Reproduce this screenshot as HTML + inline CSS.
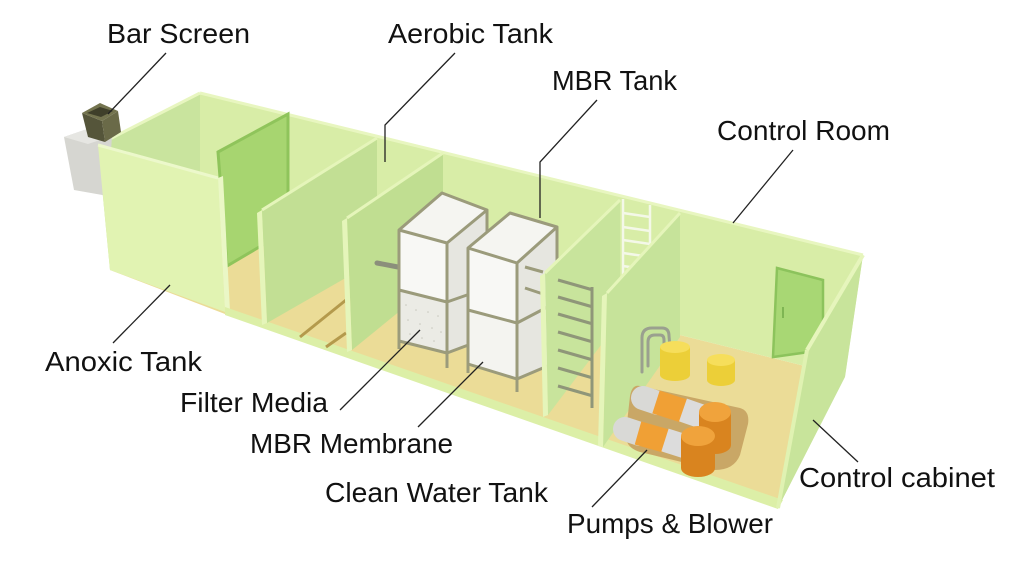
<!DOCTYPE html>
<html><head><meta charset="utf-8"><style>
html,body{margin:0;padding:0;background:#fff;}
svg{display:block;}
text{font-family:"Liberation Sans",Arial,sans-serif;font-size:28px;fill:#111;}
</style></head><body>
<svg width="1024" height="562" viewBox="0 0 1024 562" xmlns="http://www.w3.org/2000/svg">
<rect width="1024" height="562" fill="#fff"/>
<!-- floor -->
<polygon points="200,216 845,376 778,508 225,314 110,270" fill="#ebdc97"/>
<!-- back wall -->
<polygon points="200,93 863,255 845,376 200,216" fill="#d8eda7"/>
<line x1="200" y1="93" x2="863" y2="255" stroke="#e8f6c0" stroke-width="3"/>
<!-- left end inner face -->
<polygon points="98,145 200,93 200,216 110,270" fill="#c9e49e"/>
<line x1="98" y1="145" x2="200" y2="93" stroke="#e8f6c0" stroke-width="3"/>
<!-- grey block -->
<polygon points="64,137 90,128 112,136 108,196 74,190" fill="#d6d6d1"/>
<polygon points="64,137 90,128 112,136 88,144" fill="#e6e6e2"/>
<!-- bar screen -->
<polygon points="82,113 102,121 105,142 88,137" fill="#55553a"/>
<polygon points="102,121 118,111 121,132 105,142" fill="#6a6a48"/>
<polygon points="82,113 100,103 118,111 102,121" fill="#74744f"/>
<polygon points="87,113 100,107 113,111 101,117" fill="#3f3f2a"/>
<!-- anoxic panel -->
<polygon points="218,152 288,114 288,230 227,266" fill="#a7d570" stroke="#8fc45b" stroke-width="3"/>
<!-- front segment (anoxic outer) -->
<polygon points="98,145 218,178 225,312 110,270" fill="#e1f3b2"/>
<polygon points="218,178 223,176 230,311 225,312" fill="#eaf7c6"/>
<line x1="98" y1="145" x2="218" y2="178" stroke="#ecf8cb" stroke-width="3"/>
<!-- white ladder on back wall -->
<g stroke="#f4f8e8" stroke-width="2.5" fill="none">
<line x1="623" y1="199" x2="623" y2="280"/>
<line x1="650" y1="205" x2="650" y2="270"/>
<line x1="623" y1="213" x2="650" y2="217"/>
<line x1="623" y1="227" x2="650" y2="231"/>
<line x1="623" y1="240" x2="650" y2="244"/>
<line x1="623" y1="253" x2="650" y2="257"/>
<line x1="623" y1="266" x2="650" y2="270"/>
</g>
<!-- control room door -->
<polygon points="777,268 823,280 823,350 773,357" fill="#a8d774" stroke="#8cc35c" stroke-width="2.5"/>
<line x1="783" y1="307" x2="783" y2="318" stroke="#7fb553" stroke-width="2"/>
<!-- front lip -->
<polygon points="225,307 783,500 778,509 225,315" fill="#dcefa7"/>
<!-- D1 -->
<polygon points="262,210 377,138 377,260 267,323" fill="#c2df94"/>
<polygon points="257,213 262,210 267,323 262,325" fill="#e5f5ba"/>
<line x1="262" y1="210" x2="377" y2="138" stroke="#e5f5ba" stroke-width="3"/>
<!-- aerobic pipes -->
<line x1="300" y1="337" x2="346" y2="300" stroke="#b49a4c" stroke-width="3"/>
<line x1="326" y1="347" x2="346" y2="333" stroke="#b49a4c" stroke-width="3"/>
<!-- D2 -->
<polygon points="347,218 443,153 443,276 352,350" fill="#c0de91"/>
<polygon points="342,221 347,218 352,350 347,352" fill="#e5f5ba"/>
<line x1="347" y1="218" x2="443" y2="153" stroke="#e5f5ba" stroke-width="3"/>
<line x1="377" y1="263" x2="398" y2="267" stroke="#8b8f7b" stroke-width="5" stroke-linecap="round"/>
<!-- rack 1 -->
<polygon points="399,230 442,193 487,210 447,243" fill="#f5f5f1"/>
<polygon points="399,230 447,243 447,302 399,290" fill="#f8f8f5"/>
<polygon points="399,290 447,302 447,353 399,341" fill="#ebebe5"/>
<polygon points="447,243 487,210 487,338 447,353" fill="#e6e6e0"/>
<g fill="#c8c8be">
<circle cx="406" cy="305" r="0.8"/><circle cx="416" cy="310" r="0.8"/><circle cx="428" cy="312" r="0.8"/><circle cx="438" cy="316" r="0.8"/>
<circle cx="408" cy="320" r="0.8"/><circle cx="420" cy="324" r="0.8"/><circle cx="432" cy="328" r="0.8"/><circle cx="441" cy="332" r="0.8"/>
<circle cx="410" cy="334" r="0.8"/><circle cx="422" cy="338" r="0.8"/><circle cx="434" cy="341" r="0.8"/>
</g>
<g stroke="#9b9b7b" stroke-width="3" fill="none" stroke-linejoin="round">
<polygon points="399,230 442,193 487,210 447,243"/>
<line x1="399" y1="230" x2="399" y2="349"/>
<line x1="447" y1="243" x2="447" y2="368"/>
<line x1="487" y1="210" x2="487" y2="335"/>
<polyline points="399,290 447,302 487,288"/>
<polyline points="399,341 447,353 487,338"/>
</g>
<!-- rack 2 -->
<polygon points="468,248 510,213 557,227 517,263" fill="#f5f5f1"/>
<polygon points="468,248 517,263 517,323 468,310" fill="#f8f8f5"/>
<polygon points="468,310 517,323 517,379 468,364" fill="#f4f4f0"/>
<polygon points="517,263 557,227 557,362 517,379" fill="#e6e6e0"/>
<g stroke="#9b9b7b" stroke-width="3" fill="none" stroke-linejoin="round">
<polygon points="468,248 510,213 557,227 517,263"/>
<line x1="468" y1="248" x2="468" y2="373"/>
<line x1="517" y1="263" x2="517" y2="392"/>
<line x1="557" y1="227" x2="557" y2="360"/>
<polyline points="468,310 517,323 557,302"/>
<polyline points="468,364 517,379 557,362"/>
<line x1="525" y1="267" x2="543" y2="272"/>
<line x1="525" y1="288" x2="543" y2="294"/>
</g>
<!-- D3 -->
<polygon points="545,273 620,200 620,320 548,415" fill="#c8e49c"/>
<polygon points="540,276 545,273 548,415 543,417" fill="#e5f5ba"/>
<line x1="545" y1="273" x2="620" y2="200" stroke="#e5f5ba" stroke-width="3"/>
<!-- grey ladder -->
<g stroke="#8f9679" stroke-width="3" fill="none">
<line x1="592" y1="287" x2="592" y2="408"/>
<line x1="558" y1="280" x2="593" y2="290"/>
<line x1="558" y1="297" x2="593" y2="307"/>
<line x1="558" y1="314" x2="593" y2="324"/>
<line x1="558" y1="332" x2="593" y2="342"/>
<line x1="558" y1="350" x2="593" y2="360"/>
<line x1="558" y1="368" x2="593" y2="378"/>
<line x1="558" y1="386" x2="593" y2="396"/>
</g>
<!-- D4 -->
<polygon points="607,293 680,213 680,337 603,447" fill="#c6e39a"/>
<polygon points="602,296 607,293 603,447 598,446" fill="#e5f5ba"/>
<line x1="607" y1="293" x2="680" y2="213" stroke="#e5f5ba" stroke-width="3"/>
<!-- handrail -->
<g stroke="#9aa08f" stroke-width="3" fill="none" stroke-linecap="round">
<path d="M642,372 L642,338 Q642,328 652,328 L662,328 Q669,328 669,336 L670,348"/>
<path d="M648,366 L648,342 Q648,335 655,335 L660,335 Q664,335 664,340 L664,344"/>
</g>
<!-- yellow tanks -->
<path d="M660,347 L660,375 A15,6 0 0 0 690,375 L690,347 Z" fill="#eccf38"/>
<ellipse cx="675" cy="347" rx="15" ry="6" fill="#f6de5b"/>
<path d="M707,360 L707,380 A14,6 0 0 0 735,380 L735,360 Z" fill="#eccf38"/>
<ellipse cx="721" cy="360" rx="14" ry="6" fill="#f6de5b"/>
<!-- pump base -->
<path d="M640,386 L740,408 Q750,411 748,424 L740,455 Q734,470 715,470 L640,452 Q624,447 626,432 L630,396 Q632,384 640,386 Z" fill="#c9a766"/>
<!-- back pump -->
<g stroke-width="24">
<line x1="643" y1="398" x2="658" y2="403" stroke="#d9d9d6" stroke-linecap="round"/>
<line x1="656" y1="402" x2="684" y2="411" stroke="#f0a035"/>
<line x1="683" y1="410" x2="706" y2="418" stroke="#dcdcdc"/>
</g>
<path d="M699,412 L699,445 A16,9 0 0 0 731,445 L731,412 Z" fill="#d9841f"/>
<ellipse cx="715" cy="412" rx="16" ry="10" fill="#f0a33c"/>
<!-- front pump -->
<g stroke-width="24">
<line x1="625" y1="429" x2="640" y2="434" stroke="#d9d9d6" stroke-linecap="round"/>
<line x1="638" y1="433" x2="666" y2="441" stroke="#f0a035"/>
<line x1="665" y1="440" x2="687" y2="447" stroke="#dcdcdc"/>
</g>
<path d="M681,436 L681,468 A17,9 0 0 0 715,468 L715,436 Z" fill="#d9841f"/>
<ellipse cx="698" cy="436" rx="17" ry="10" fill="#f0a33c"/>
<!-- right wall -->
<polygon points="807,350 863,255 845,377 778,508" fill="#c8e49b"/>
<line x1="807" y1="350" x2="863" y2="255" stroke="#e6f5bc" stroke-width="4"/>
<line x1="807" y1="350" x2="778" y2="508" stroke="#e0f2b2" stroke-width="4"/>
<!-- leader lines -->
<g stroke="#222" stroke-width="1.3" fill="none">
<line x1="166" y1="53" x2="108" y2="114"/>
<polyline points="455,53 385,125 385,162"/>
<polyline points="597,100 540,162 540,218"/>
<line x1="793" y1="150" x2="733" y2="223"/>
<line x1="113" y1="343" x2="170" y2="285"/>
<line x1="340" y1="410" x2="420" y2="330"/>
<line x1="418" y1="427" x2="483" y2="362"/>
<line x1="592" y1="507" x2="647" y2="450"/>
<line x1="858" y1="462" x2="813" y2="420"/>
</g>
<!-- labels -->
<text x="107" y="43" textLength="143" lengthAdjust="spacingAndGlyphs">Bar Screen</text>
<text x="388" y="43" textLength="165" lengthAdjust="spacingAndGlyphs">Aerobic Tank</text>
<text x="552" y="90" textLength="125" lengthAdjust="spacingAndGlyphs">MBR Tank</text>
<text x="717" y="140" textLength="173" lengthAdjust="spacingAndGlyphs">Control Room</text>
<text x="45" y="371" textLength="157" lengthAdjust="spacingAndGlyphs">Anoxic Tank</text>
<text x="180" y="412" textLength="148" lengthAdjust="spacingAndGlyphs">Filter Media</text>
<text x="250" y="453" textLength="203" lengthAdjust="spacingAndGlyphs">MBR Membrane</text>
<text x="325" y="502" textLength="223" lengthAdjust="spacingAndGlyphs">Clean Water Tank</text>
<text x="567" y="533" textLength="206" lengthAdjust="spacingAndGlyphs">Pumps &amp; Blower</text>
<text x="799" y="487" textLength="196" lengthAdjust="spacingAndGlyphs">Control cabinet</text>
</svg>
</body></html>
